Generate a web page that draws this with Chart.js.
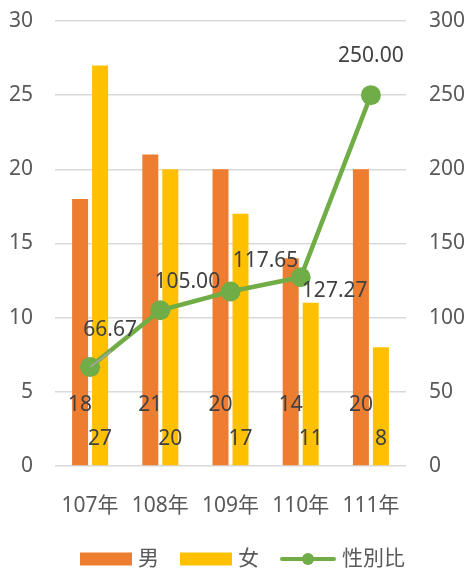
<!DOCTYPE html>
<html>
<head>
<meta charset="utf-8">
<script src="https://cdn.jsdelivr.net/npm/chart.js@4/dist/chart.umd.min.js"></script>
<style>
  html, body { margin: 0; padding: 0; background: #fff; }
  #wrap { width: 468px; height: 572px; position: relative; }
</style>
</head>
<body>
<div id="wrap"><canvas id="chart"></canvas></div>
<script>
const years = ['107年', '108年', '109年', '110年', '111年'];
const male = [18, 21, 20, 14, 20];
const female = [27, 20, 17, 11, 8];
const sexRatio = [66.67, 105.00, 117.65, 127.27, 250.00];

const leftTicks = [0, 5, 10, 15, 20, 25, 30];
const rightTicks = [0, 50, 100, 150, 200, 250, 300];

// where the bar labels sit (in left-axis units) and how far the ratio labels are moved off their points
const barLabelAt = [4.1, 1.85];
const ratioLabelOffset = [[20, -37], [27, -28], [35, -30], [34, 14], [0, -39]];

const FONT = '"Noto Sans", "Noto Sans CJK TC", sans-serif';
const FONT_SIZE = 21;
Chart.defaults.font.family = FONT;
Chart.defaults.font.size = FONT_SIZE;

const valueLabels = {
    id: 'valueLabels',
    afterDatasetsDraw(chart) {
        const ctx = chart.ctx;
        const yScale = chart.scales.y;
        ctx.save();
        ctx.font = FONT_SIZE + 'px ' + FONT;
        ctx.fillStyle = '#404040';
        ctx.textAlign = 'center';
        ctx.textBaseline = 'middle';

        [0, 1].forEach(i => {
            const values = chart.data.datasets[i].data;
            chart.getDatasetMeta(i).data.forEach((bar, j) => {
                ctx.fillText(String(values[j]), bar.x, yScale.getPixelForValue(barLabelAt[i]));
            });
        });

        const points = chart.getDatasetMeta(2).data;
        // leader line for the first ratio label
        const p0 = points[0];
        ctx.strokeStyle = '#A6A6A6';
        ctx.lineWidth = 1.5;
        ctx.beginPath();
        ctx.moveTo(p0.x, p0.y);
        ctx.lineTo(p0.x + 21, p0.y - 16);
        ctx.stroke();

        points.forEach((pt, j) => {
            const [dx, dy] = ratioLabelOffset[j];
            ctx.fillText(sexRatio[j].toFixed(2), pt.x + dx, pt.y + dy);
        });
        ctx.restore();
    }
};

// legend drawn by hand: Excel style boxes, a line-with-dot icon, tight spacing
const legendBox = {
    id: 'legendBox',
    afterDraw(chart) {
        const ctx = chart.ctx;
        const boxW = 52, boxH = 13, textGap = 6, itemGap = 21;
        const y = chart.height - 13;
        ctx.save();
        ctx.font = FONT_SIZE + 'px ' + FONT;
        ctx.textBaseline = 'middle';
        ctx.textAlign = 'left';

        const items = chart.data.datasets.map(ds => ({
            text: ds.label,
            color: ds.borderColor || ds.backgroundColor,
            isLine: ds.type === 'line',
            width: boxW + textGap + ctx.measureText(ds.label).width
        }));
        const total = items.reduce((s, it) => s + it.width, 0) + itemGap * (items.length - 1);
        let x = (chart.chartArea.left + chart.chartArea.right) / 2 - total / 2 + 10;

        items.forEach(it => {
            if (it.isLine) {
                ctx.strokeStyle = it.color;
                ctx.lineWidth = 4;
                ctx.lineCap = 'round';
                ctx.beginPath();
                ctx.moveTo(x + 2, y);
                ctx.lineTo(x + boxW + 2, y);
                ctx.stroke();
                ctx.fillStyle = it.color;
                ctx.beginPath();
                ctx.arc(x + boxW / 2 + 2, y, 6, 0, Math.PI * 2);
                ctx.fill();
            } else {
                ctx.fillStyle = it.color;
                ctx.fillRect(x, y - boxH / 2, boxW, boxH);
            }
            ctx.fillStyle = '#595959';
            ctx.fillText(it.text, x + boxW + textGap + (it.isLine ? 4 : 0), y);
            x += it.width + itemGap;
        });
        ctx.restore();
    }
};

new Chart(document.getElementById('chart'), {
    type: 'bar',
    data: {
        labels: years,
        datasets: [
            {
                label: '男',
                data: male,
                backgroundColor: '#ED7D31',
                yAxisID: 'y',
                order: 1,
                barPercentage: 0.8,
                categoryPercentage: 0.57
            },
            {
                label: '女',
                data: female,
                backgroundColor: '#FFC000',
                yAxisID: 'y',
                order: 1,
                barPercentage: 0.8,
                categoryPercentage: 0.57
            },
            {
                type: 'line',
                label: '性別比',
                data: sexRatio,
                yAxisID: 'y1',
                order: 0,
                borderColor: '#70AD47',
                backgroundColor: '#70AD47',
                borderWidth: 4.5,
                pointRadius: 10,
                pointHoverRadius: 10,
                pointBorderWidth: 0,
                pointBackgroundColor: '#70AD47',
                tension: 0
            }
        ]
    },
    options: {
        responsive: true,
        maintainAspectRatio: false,
        animation: false,
        layout: { autoPadding: false, padding: { top: 21, left: 0, right: 0, bottom: 50 } },
        scales: {
            x: {
                grid: { display: false },
                border: { display: false },
                ticks: { color: '#595959', padding: 19 },
                afterFit(scale) { scale.height = 56; }
            },
            y: {
                position: 'left',
                min: 0,
                max: 30,
                afterBuildTicks(scale) { scale.ticks = leftTicks.map(v => ({ value: v })); },
                // tick marks are invisible, their length just spaces the labels off the plot
                grid: { color: '#D9D9D9', lineWidth: 1.5, drawTicks: true, tickLength: 19, tickColor: 'rgba(0,0,0,0)' },
                border: { display: false },
                ticks: { color: '#595959', padding: 3 },
                afterFit(scale) { scale.width = 55; }
            },
            y1: {
                position: 'right',
                min: 0,
                max: 300,
                afterBuildTicks(scale) { scale.ticks = rightTicks.map(v => ({ value: v })); },
                grid: { display: false, drawTicks: true, tickLength: 20 },
                border: { display: false },
                ticks: { color: '#595959', padding: 3 },
                afterFit(scale) { scale.width = 62; }
            }
        },
        plugins: {
            tooltip: { enabled: false },
            legend: { display: false }
        }
    },
    plugins: [valueLabels, legendBox]
});
</script>
</body>
</html>
